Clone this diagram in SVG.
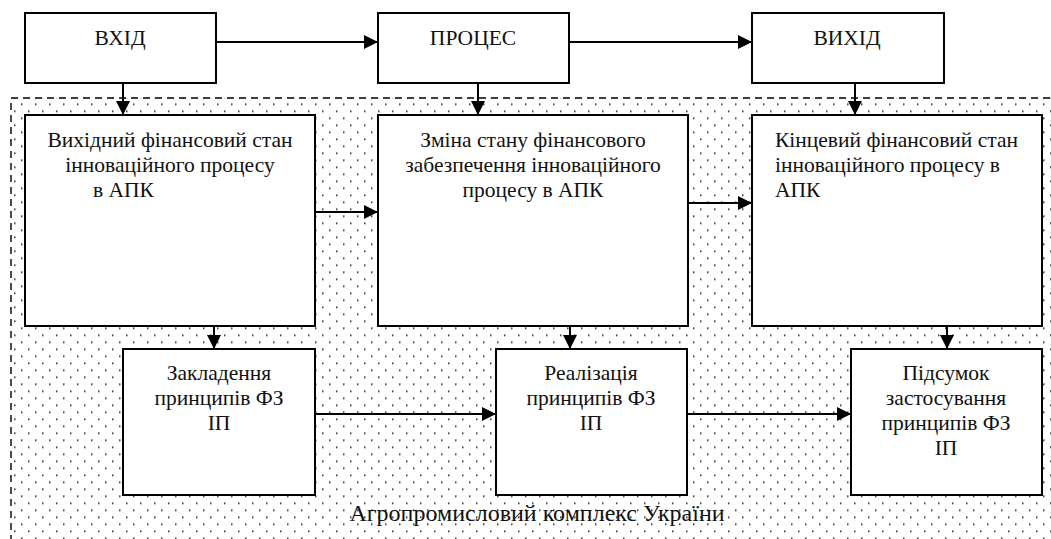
<svg xmlns="http://www.w3.org/2000/svg" width="1051" height="539" viewBox="0 0 1051 539">
<defs>
<pattern id="dots" patternUnits="userSpaceOnUse" x="7" y="5.5" width="14" height="14">
<rect x="0" y="0" width="1.5" height="1.5" fill="#111"/>
<rect x="7" y="7" width="1.5" height="1.5" fill="#111"/>
</pattern>
<marker id="ah" markerUnits="userSpaceOnUse" markerWidth="14" markerHeight="14" refX="14" refY="7" orient="auto">
<path d="M0,0 L14,7 L0,14 Z" fill="#000"/>
</marker>
</defs>
<rect width="1051" height="539" fill="#fff"/>
<g id="region">
<rect x="11" y="98" width="1060" height="470" fill="url(#dots)" stroke="#000" stroke-width="1.4" stroke-dasharray="7,5"/>
<text x="537" y="521" text-anchor="middle" style="font-family:'Liberation Serif',serif;font-size:24px;fill:#111">Агропромисловий комплекс України</text>
</g>
<g id="connectors" stroke="#000" stroke-width="2" fill="none" marker-end="url(#ah)">
<line x1="216" y1="42" x2="378" y2="42"/>
<line x1="569" y1="42" x2="752" y2="42"/>
<line x1="123" y1="83" x2="123" y2="115"/>
<line x1="478" y1="83" x2="478" y2="115"/>
<line x1="855" y1="83" x2="855" y2="115"/>
<line x1="315" y1="212" x2="378" y2="212"/>
<line x1="688" y1="203" x2="752" y2="203"/>
<line x1="214" y1="326" x2="214" y2="349"/>
<line x1="570" y1="326" x2="570" y2="349"/>
<line x1="947" y1="326" x2="947" y2="349"/>
<line x1="315" y1="414" x2="496" y2="414"/>
<line x1="687" y1="414" x2="851" y2="414"/>
</g>
<g id="vhid">
<rect x="25" y="13" width="191" height="70" fill="#fff" stroke="#000" stroke-width="2"/>
<text x="120" y="45" text-anchor="middle" style="font-family:'Liberation Serif',serif;font-size:21.5px;fill:#111">ВХІД</text>
</g>
<g id="proces">
<rect x="378" y="13" width="191" height="70" fill="#fff" stroke="#000" stroke-width="2"/>
<text x="473" y="45" text-anchor="middle" style="font-family:'Liberation Serif',serif;font-size:21.5px;fill:#111">ПРОЦЕС</text>
</g>
<g id="vyhid">
<rect x="752" y="13" width="192" height="70" fill="#fff" stroke="#000" stroke-width="2"/>
<text x="847" y="45" text-anchor="middle" style="font-family:'Liberation Serif',serif;font-size:21.5px;fill:#111">ВИХІД</text>
</g>
<g id="stan-vyhidnyi">
<rect x="25" y="115" width="290" height="211" fill="#fff" stroke="#000" stroke-width="2"/>
<text x="170" y="147" text-anchor="middle" style="font-family:'Liberation Serif',serif;font-size:21.5px;fill:#111">Вихідний фінансовий стан</text>
<text x="170" y="172" text-anchor="middle" style="font-family:'Liberation Serif',serif;font-size:21.5px;fill:#111">інноваційного процесу</text>
<text x="93" y="197" style="font-family:'Liberation Serif',serif;font-size:21.5px;fill:#111">в АПК</text>
</g>
<g id="zmina-stanu">
<rect x="378" y="115" width="310" height="211" fill="#fff" stroke="#000" stroke-width="2"/>
<text x="533" y="147" text-anchor="middle" style="font-family:'Liberation Serif',serif;font-size:21.5px;fill:#111">Зміна стану фінансового</text>
<text x="533" y="172" text-anchor="middle" style="font-family:'Liberation Serif',serif;font-size:21.5px;fill:#111">забезпечення інноваційного</text>
<text x="533" y="197" text-anchor="middle" style="font-family:'Liberation Serif',serif;font-size:21.5px;fill:#111">процесу в АПК</text>
</g>
<g id="stan-kintsevyi">
<rect x="752" y="115" width="290" height="211" fill="#fff" stroke="#000" stroke-width="2"/>
<text x="775" y="147" style="font-family:'Liberation Serif',serif;font-size:21.5px;fill:#111">Кінцевий фінансовий стан</text>
<text x="775" y="172" style="font-family:'Liberation Serif',serif;font-size:21.5px;fill:#111">інноваційного процесу в</text>
<text x="775" y="197" style="font-family:'Liberation Serif',serif;font-size:21.5px;fill:#111">АПК</text>
</g>
<g id="zakladennia">
<rect x="123" y="349" width="192" height="146" fill="#fff" stroke="#000" stroke-width="2"/>
<text x="219" y="380" text-anchor="middle" style="font-family:'Liberation Serif',serif;font-size:21.5px;fill:#111">Закладення</text>
<text x="219" y="405" text-anchor="middle" style="font-family:'Liberation Serif',serif;font-size:21.5px;fill:#111">принципів ФЗ</text>
<text x="219" y="430" text-anchor="middle" style="font-family:'Liberation Serif',serif;font-size:21.5px;fill:#111">ІП</text>
</g>
<g id="realizatsiia">
<rect x="496" y="349" width="191" height="146" fill="#fff" stroke="#000" stroke-width="2"/>
<text x="591" y="380" text-anchor="middle" style="font-family:'Liberation Serif',serif;font-size:21.5px;fill:#111">Реалізація</text>
<text x="591" y="405" text-anchor="middle" style="font-family:'Liberation Serif',serif;font-size:21.5px;fill:#111">принципів ФЗ</text>
<text x="591" y="430" text-anchor="middle" style="font-family:'Liberation Serif',serif;font-size:21.5px;fill:#111">ІП</text>
</g>
<g id="pidsumok">
<rect x="851" y="349" width="191" height="146" fill="#fff" stroke="#000" stroke-width="2"/>
<text x="946" y="380" text-anchor="middle" style="font-family:'Liberation Serif',serif;font-size:21.5px;fill:#111">Підсумок</text>
<text x="946" y="405" text-anchor="middle" style="font-family:'Liberation Serif',serif;font-size:21.5px;fill:#111">застосування</text>
<text x="946" y="430" text-anchor="middle" style="font-family:'Liberation Serif',serif;font-size:21.5px;fill:#111">принципів ФЗ</text>
<text x="946" y="455" text-anchor="middle" style="font-family:'Liberation Serif',serif;font-size:21.5px;fill:#111">ІП</text>
</g>
</svg>
